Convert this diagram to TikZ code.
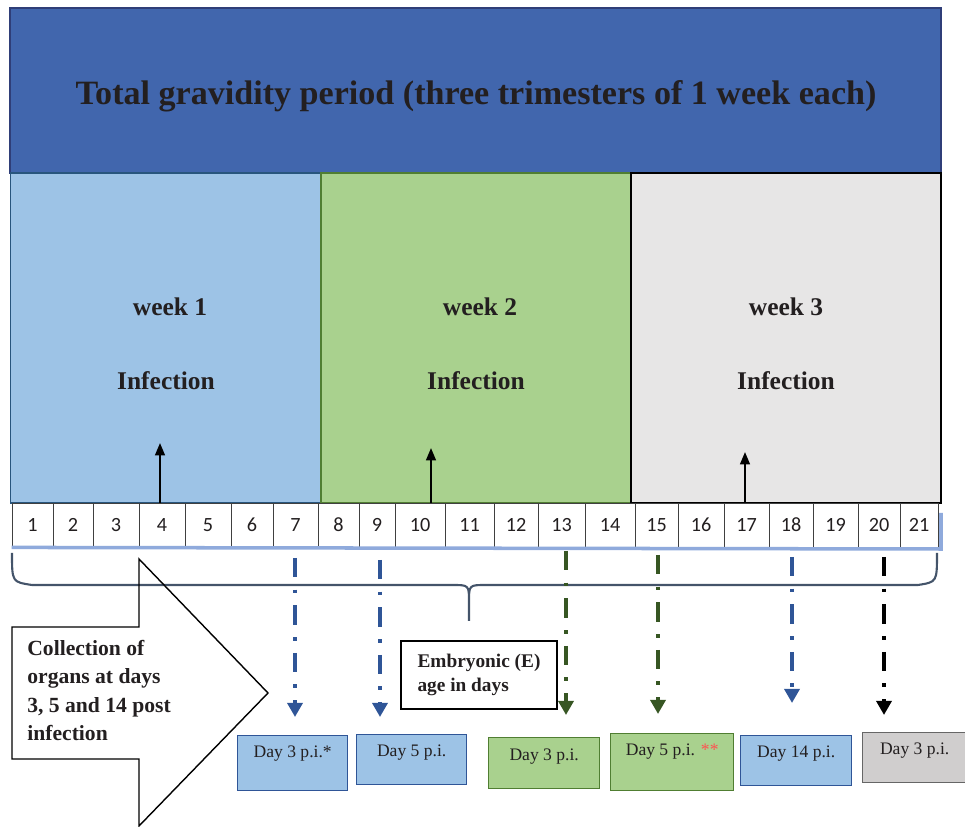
\documentclass[tikz,border=0pt]{standalone}
\usepackage{fontspec}
\setmainfont{Liberation Serif}
\newfontfamily\cellfont{Carlito}
\usetikzlibrary{arrows.meta,positioning}
\definecolor{topblue}{RGB}{65,102,173}
\definecolor{topedge}{RGB}{47,62,120}
\definecolor{wkblue}{RGB}{157,195,230}
\definecolor{wkblueedge}{RGB}{40,85,125}
\definecolor{wkgreen}{RGB}{169,209,142}
\definecolor{wkgreenedge}{RGB}{80,126,50}
\definecolor{wkgray}{RGB}{231,230,230}
\definecolor{boxgray}{RGB}{208,206,206}
\definecolor{arrblue}{RGB}{47,85,151}
\definecolor{arrgreen}{RGB}{55,86,35}
\definecolor{bracecol}{RGB}{68,84,106}
\definecolor{rowline}{RGB}{143,170,220}
\definecolor{inkcol}{RGB}{35,31,32}
\definecolor{starred}{RGB}{255,80,80}

\begin{document}
\begin{tikzpicture}[x=0.02cm,y=-0.02cm,text=inkcol,
    weekbox/.style={draw,line width=0.8pt,minimum width=6.2cm,minimum height=6.6cm,inner sep=0pt},
    weektext/.style={font=\fontsize{14.5}{17}\selectfont\bfseries},
    daycell/.style={draw=black!75,fill=white,line width=0.5pt,minimum height=0.88cm,inner sep=0pt,font=\cellfont\fontsize{11.5}{13}\selectfont},
    uparrow/.style={line width=1.2pt,-{Triangle[width=5.5pt,length=7pt]}},
    dayarrow/.style={line width=2.2pt,dash pattern=on 11pt off 7pt on 2pt off 7pt,-{Triangle[width=8.5pt,length=8pt]}},
    pibox/.style={draw,line width=0.8pt,inner sep=0pt,anchor=north west},
    pitext/.style={inner sep=0pt,font=\fontsize{10}{12}\selectfont}]
    \useasboundingbox (0,0) rectangle (965,827);

    \node[draw=topedge,fill=topblue,line width=0.8pt,minimum width=18.62cm,minimum height=3.3cm,inner sep=0pt] (total) at (475.5,90.5) {};
    \node[font=\fontsize{19.4}{22}\selectfont\bfseries] (title) at (476,96) {Total gravidity period (three trimesters of 1 week each)};

    \node[weekbox,fill=wkblue,draw=wkblueedge] (wk1) at (165.5,338) {};
    \node[weekbox,fill=wkgreen,draw=wkgreenedge] (wk2) at (476,338) {};
    \node[weekbox,fill=wkgray,draw=black] (wk3) at (786,338) {};
    \node[weektext] (wk1lbl) at (170,307) {week 1};
    \node[weektext] (wk2lbl) at (480,307) {week 2};
    \node[weektext] (wk3lbl) at (786,307) {week 3};
    \node[weektext] (inf1lbl) at (166,381) {Infection};
    \node[weektext] (inf2lbl) at (476,381) {Infection};
    \node[weektext] (inf3lbl) at (786,381) {Infection};

    % days of gestation
    \foreach \l/\r [count=\i] in {12/53,53/93,93/139,139/185,185/231,231/273,273/318,318/359,359/395,395/445,445/494,494/538,538/585,585/635,635/678,678/724,724/769,769/813,813/858,858/900,900/938}
      \node[daycell,minimum width={(\r-\l)*0.02cm}] (d\i) at ({(\l+\r)/2},525) {\i};
    \draw[rowline,line width=2pt] (d1.south west) -- (941,549) -- (941,513);

    \coordinate (inf1) at (160,443);
    \coordinate (inf2) at (431,448);
    \coordinate (inf3) at (745,452);
    \draw[uparrow] (d4.north -| inf1) -- (inf1);
    \draw[uparrow] (d10.north -| inf2) -- (inf2);
    \draw[uparrow] (d17.north -| inf3) -- (inf3);

    \draw[bracecol,line width=1.2pt] (12,553) .. controls (12,582) .. (32,585) -- (452,585)
      .. controls (469,585) .. (469,602) -- (469,621) (469,602) .. controls (469,585) .. (486,585)
      -- (918,585) .. controls (937,582) .. (937,553);

    \draw[line width=0.8pt] (12,627) -- (139,627) -- (139,559) -- (268,693) -- (139,826)
      -- (139,759) -- (12,759) -- cycle;
    \node[align=left,anchor=west,inner sep=0pt,font=\fontsize{12.3}{16.2}\selectfont\bfseries] (collect) at (27,690.5) {Collection of\\organs at days\\3, 5 and 14 post\\infection};

    \node[draw,line width=1.2pt,minimum width=3.12cm,minimum height=1.36cm,align=left,font=\fontsize{11}{13.6}\selectfont\bfseries] (embryo) at (479,675) {Embryonic (E)\\age in days};

    % organ collection
    \node[pibox,fill=wkblue,draw=arrblue,minimum width=2.2cm,minimum height=1.1cm] (p1) at (237,735) {};
    \node[pibox,fill=wkblue,draw=arrblue,minimum width=2.2cm,minimum height=1cm] (p2) at (356,734) {};
    \node[pibox,fill=wkgreen,draw=wkgreenedge,minimum width=2.22cm,minimum height=1.02cm] (p3) at (488,737) {};
    \node[pibox,fill=wkgreen,draw=wkgreenedge,minimum width=2.46cm,minimum height=1.14cm] (p4) at (610,733) {};
    \node[pibox,fill=wkblue,draw=arrblue,minimum width=2.22cm,minimum height=1cm] (p5) at (740,735) {};
    \node[pibox,fill=boxgray,draw=black!60,minimum width=2.2cm,minimum height=1cm] (p6) at (862,732) {};
    \node[pitext,below=0.22cm of p1.north] (p1lbl) {Day 3 p.i.*};
    \node[pitext,below=0.22cm of p2.north] (p2lbl) {Day 5 p.i.};
    \node[pitext,below=0.24cm of p3.north] (p3lbl) {Day 3 p.i.};
    \node[pitext,below=0.22cm of p4.north] (p4lbl) {Day 5 p.i. \textcolor{starred}{**}};
    \node[pitext,below=0.22cm of p5.north] (p5lbl) {Day 14 p.i.};
    \node[pitext,below=0.22cm of p6.north,xshift=-0.06cm] (p6lbl) {Day 3 p.i.};

    \foreach \x/\ya/\yb/\c [count=\i] in {295/558/717/arrblue,380/560/717/arrblue,566/551/715/arrgreen,658/555/714/arrgreen,792/557/703/arrblue,884/557/715/black}{
      \coordinate (top\i) at (\x,\ya);
      \coordinate (tip\i) at (\x,\yb);
      \draw[dayarrow,\c] (top\i) -- (tip\i);
    }
\end{tikzpicture}
\end{document}
